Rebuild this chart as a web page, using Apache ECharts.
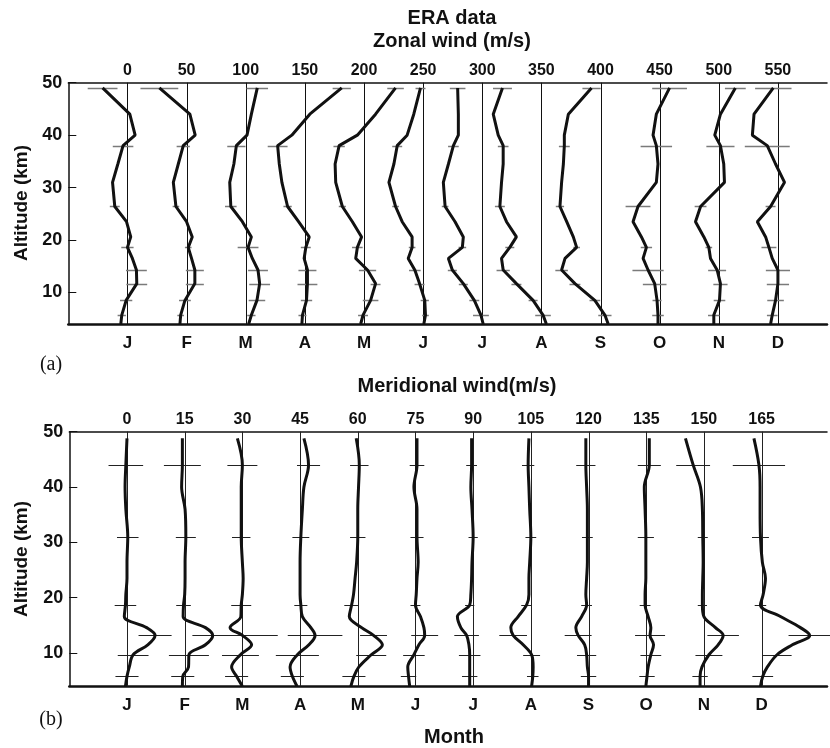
<!DOCTYPE html>
<html><head><meta charset="utf-8">
<script src="https://cdn.jsdelivr.net/npm/echarts@6/dist/echarts.min.js"></script>
<style>html,body{margin:0;padding:0;background:#fff}#c{width:830px;height:748px}</style>
</head><body><div id="c"></div>
<script>
// ---- categories / ticks ----
const months = ['J','F','M','A','M','J','J','A','S','O','N','D'];
const zonalTicks = [0,50,100,150,200,250,300,350,400,450,500,550];
const merTicks = [0,15,30,45,60,75,90,105,120,135,150,165];
const altTicks = [10,20,30,40,50];

// ---- zonal wind (m/s), relative to each month's reference line ----
const zonalAlt = [49, 44, 40, 38, 34.5, 31, 26.4, 23.5, 20.6, 18.6, 16.5, 14.3, 11.7, 8.5, 5.7, 4];
const zJan = [-21, 2, 6.5, -3.7, -8.1, -12.6, -10.7, -0.8, 2.8, 0, 4.2, 7.6, 7.9, -1.1, -4.8, -5.6];
const zFeb = [-23, 2.8, 7.3, -2.8, -7, -11.2, -9, 0, 4.8, 1.4, 4.2, 7, 7, -1.4, -5, -5.6];
const zMar = [9.8, 4.8, 1.1, -7.9, -10, -13.5, -12.6, -2.8, 4.8, 2, 5.6, 10.4, 11.8, 9.5, 4.8, 2.5];
const zApr = [31.2, 4.2, -11, -23, -21.6, -19.4, -14.6, -5.3, 3.7, 0.8, -0.6, 2.2, 2.2, 1.4, -2, -2.5];
const zMay = [26.7, 9.8, -5.6, -21, -24.4, -23.9, -18.3, -9.8, -2, -5.6, -7, 3, 9.8, 5.6, -0.8, -2.8];
const zJun = [-2.2, -7.9, -13.5, -21.9, -24.7, -28.9, -23.3, -17.7, -9.3, -9.3, -12.6, -7, -3, 1.4, 2, 0.6];
const zJul = [-20.8, -20.2, -20.2, -24.4, -28.6, -32.9, -31.4, -23, -16, -16.8, -28.6, -25.3, -16, -6.7, -1.1, 0.8];
const zAug = [-32.9, -40.7, -36.5, -32.3, -32.3, -33.7, -35.1, -29.5, -21.1, -26.7, -33.7, -32.3, -21.1, -7, 1.4, 4.2];
const zSep = [-7.6, -27.2, -30.6, -30.6, -31.4, -32.9, -34.3, -28.6, -23, -20.2, -30, -32.9, -21.6, -4.8, 3.7, 6.5];
const zOct = [8.4, -2.8, -5.6, -2.8, -1.4, -2.8, -18.3, -22.5, -15.4, -11.2, -14, -9.8, -4.2, -2.2, -1.4, -1.4];
const zNov = [14, 1.4, -3.4, 1.4, 4.2, 4.8, -15.4, -19.7, -12.6, -8.4, -7, -1.4, 1.4, 0.6, -4.2, -4.2];
const zDec = [-3.9, -20.2, -21.6, -9, -2, 5.6, -6.2, -17.4, -10.4, -7.6, -4.8, 0, 0, -2, -4.8, -6.2];

// zonal spread (half-width of horizontal bars, m/s)
const zonalBarAlt = [49, 38, 26.4, 18.6, 14.3, 11.7, 8.5, 5.7];
const ezJan = [12.6, 8.7, 4.2, 5.2, 8.8, 8.8, 5.2, 3.5];
const ezFeb = [16, 5.6, 2.8, 2.8, 7.6, 7.6, 5, 2.8];
const ezMar = [9.1, 7.7, 4.9, 8.8, 8.4, 8.8, 7, 3.5];
const ezApr = [7.7, 8.4, 3.5, 4.2, 7.6, 8.4, 4.8, 3.4];
const ezMay = [7, 4.8, 3, 4.5, 7.3, 4.2, 6.6, 4.2];
const ezJun = [4.2, 4.2, 2.8, 2.8, 4.9, 4.2, 3.5, 2.8];
const ezJul = [6.6, 4.5, 2.8, 3.2, 3.8, 3.8, 4.2, 6.7];
const ezAug = [8, 4.5, 4.2, 3.8, 5.6, 4.2, 3.8, 6.6];
const ezSep = [7.7, 4.6, 3.5, 2.8, 5.3, 4.6, 4.5, 5.6];
const ezOct = [14.7, 13.3, 10.5, 4.8, 13.2, 10, 3.8, 4.9];
const ezNov = [8.8, 11.9, 5, 2.8, 7.6, 6, 4.9, 4.9];
const ezDec = [15.4, 19, 4.2, 6.3, 10.2, 9.4, 7, 4.5];

// ---- meridional wind (m/s), relative to each month's reference line ----
const merAlt = [48.8, 44, 40, 36, 31, 26.4, 23.5, 20.6, 18.7, 16.6, 14.6, 13.2, 11.5, 9.7, 7.5, 5.8, 4];
const mJan = [0, -0.3, -0.5, -0.3, 0.2, 0, 0, -0.3, -0.4, -0.7, 5.1, 7.3, 5.4, 1.6, 0.6, 0, -0.4];
const mFeb = [-0.6, -0.6, -0.8, 0.1, 0.3, 0.1, 0.1, 0, -0.3, -0.4, 5.4, 7.3, 5.4, 1.1, 1.0, -0.5, -0.6];
const mMar = [-1.3, 0, -0.3, -0.3, -0.3, 0, 0.2, 0, -0.3, -0.4, -3.2, 0, 2.4, -0.5, -2.8, -1.5, 0];
const mApr = [1, 2.2, 1, 0.6, 0.2, 0, 0, 0, 0.2, 0.6, 2.8, 3.9, 2.3, -0.7, -2.6, -2, -0.8];
const mMay = [-0.4, 0.4, 0.2, 0, 0, -0.3, -0.7, -1.1, -1.6, -2.2, 1, 4.1, 6.4, 3.5, 0.3, -1.0, -1.8];
const mJun = [0.4, 0.4, -0.4, 0.4, 0.4, 0.7, 0.4, 0.2, 0, 1.3, 2.2, 2.4, 0.9, -0.4, -2.0, -1.8, -1.5];
const mJul = [-0.4, -0.4, -0.6, -0.3, 0, -0.3, -0.4, -0.6, -0.9, -4.1, -3.2, -1.7, -1.1, -0.9, -0.9, -0.9, -0.9];
const mAug = [-0.5, -0.7, -0.5, -0.3, 0, -0.3, -0.5, -0.5, -1.1, -3.3, -5.2, -4.6, -2.0, 0.2, 0.6, 0.5, 0.2];
const mSep = [-0.7, -0.7, -0.5, -0.3, -0.3, -0.3, -0.5, -0.7, -0.5, -1.8, -3.3, -2.7, -1.0, -0.5, -0.3, 0, 0];
const mOct = [0.8, 0.8, -0.5, -0.3, -0.1, -0.1, -0.1, -0.3, -0.3, 0.5, 1.2, 1.0, 1.9, 1.2, 0.5, 0.2, -0.1];
const mNov = [-4.8, -2.8, -0.9, -0.4, -0.3, -0.2, -0.3, -0.4, -0.4, 0, 3, 5, 3.7, 1.3, -0.5, -1, -1];
const mDec = [-2, -0.7, -0.4, -0.4, -0.3, 0.2, 1, 0.4, -0.3, 4.9, 10.1, 12.5, 8.0, 4.0, 1.5, 0.3, -0.3];

// meridional spread (half-width of horizontal bars, m/s)
const merBarAlt = [44, 31, 18.7, 13.2, 9.7, 5.8];
const emJan = [4.5, 2.8, 2.8, 4.3, 4, 3];
const emFeb = [4.8, 2.6, 1.9, 5.3, 5.2, 3];
const emMar = [3.9, 2.4, 2.6, 9.2, 4.8, 3];
const emApr = [3, 2.2, 1.7, 7.1, 5.6, 3];
const emMay = [2.4, 2, 1.9, 3.5, 3.9, 3];
const emJun = [1.9, 1.7, 1.3, 3.5, 2.8, 2];
const emJul = [1.4, 1.2, 1.2, 3.2, 2.8, 2];
const emAug = [1.6, 1.4, 1.4, 3.6, 2.2, 1.5];
const emSep = [2.5, 1.4, 1.4, 3.5, 2.5, 2];
const emOct = [3, 2.1, 1.4, 3.9, 2.7, 2];
const emNov = [4.4, 1.3, 1.2, 4.1, 3.5, 2];
const emDec = [6.8, 2.2, 1.5, 5.5, 3.8, 2.7];

// ---- build ----
const zonalProfiles = [zJan,zFeb,zMar,zApr,zMay,zJun,zJul,zAug,zSep,zOct,zNov,zDec];
const zonalErr = [ezJan,ezFeb,ezMar,ezApr,ezMay,ezJun,ezJul,ezAug,ezSep,ezOct,ezNov,ezDec];
const merProfiles = [mJan,mFeb,mMar,mApr,mMay,mJun,mJul,mAug,mSep,mOct,mNov,mDec];
const merErr = [emJan,emFeb,emMar,emApr,emMay,emJun,emJul,emAug,emSep,emOct,emNov,emDec];

const FONT = "'Liberation Sans', Arial, sans-serif";
const series = [];

function errRender(color, width) {
  return function (params, api) {
    const c = api.value(0), a = api.value(1), h = api.value(2);
    const p1 = api.coord([c - h, a]), p2 = api.coord([c + h, a]);
    const y = Math.round(p1[1]) + 0.5;
    return { type: 'line', shape: { x1: p1[0], y1: y, x2: p2[0], y2: y },
      style: { stroke: color, lineWidth: width } };
  };
}
function vRender(color) {
  return function (params, api) {
    const v = api.value(0);
    const p1 = api.coord([v, api.value(1)]), p2 = api.coord([v, api.value(2)]);
    const x = Math.round(p1[0]) + 0.5;
    return { type: 'line', shape: { x1: x, y1: p1[1], x2: x, y2: p2[1] },
      style: { stroke: color, lineWidth: 1 } };
  };
}

function addPanel(profiles, errs, alts, barAlts, ticks, xi, yi, smooth, barColor, barWidth, vColor) {
  series.push({ type: 'custom', xAxisIndex: xi, yAxisIndex: yi, z: 2, silent: true,
    renderItem: vRender(vColor), encode: { x: 0, y: 1 },
    data: ticks.map(t => [t, 4, 50]) });
  const barData = [];
  profiles.forEach((p, m) => {
    const off = ticks[m];
    series.push({
      type: 'line', xAxisIndex: xi, yAxisIndex: yi, showSymbol: false, symbol: 'none',
      smooth: smooth, z: 5, silent: true,
      lineStyle: { color: '#111', width: 3 },
      data: p.map((v, i) => [off + v, alts[i]])
    });
    barAlts.forEach((a, k) => {
      const idx = alts.indexOf(a);
      barData.push([off + p[idx], a, errs[m][k]]);
    });
  });
  series.push({ type: 'custom', xAxisIndex: xi, yAxisIndex: yi, z: 3, silent: true,
    renderItem: errRender(barColor, barWidth), encode: { x: 0, y: 1 }, data: barData });
}

addPanel(zonalProfiles, zonalErr, zonalAlt, zonalBarAlt, zonalTicks, 0, 0, false, '#7a7a7a', 1.5, '#111');
addPanel(merProfiles, merErr, merAlt, merBarAlt, merTicks, 2, 1, 0.35, '#222', 1, '#222');

function topFmt(step, maxT) {
  return v => (v >= 0 && v <= maxT + 1e-6 && Math.abs(v / step - Math.round(v / step)) < 1e-6) ? String(v) : '';
}
function monFmt(step) {
  return v => {
    const i = Math.round(v / step);
    return (v >= 0 && i < 12 && Math.abs(v / step - i) < 1e-6) ? months[i] : '';
  };
}

function topAxis(grid, min, max, step, maxT) {
  return { type: 'value', gridIndex: grid, position: 'top', min, max, interval: step,
    axisLine: { show: true, onZero: false, lineStyle: { color: '#111', width: 1.5 } },
    axisTick: { show: false },
    axisLabel: { formatter: topFmt(step, maxT), color: '#111', fontSize: 16, fontWeight: 'bold', fontFamily: FONT, margin: 4 },
    splitLine: { show: false } };
}
function monAxis(grid, min, max, step) {
  return { type: 'value', gridIndex: grid, position: 'bottom', min, max, interval: step,
    axisLine: { show: true, onZero: false, lineStyle: { color: '#111', width: 2.5 } },
    axisTick: { show: false },
    axisLabel: { formatter: monFmt(step), color: '#111', fontSize: 17, fontWeight: 'bold', fontFamily: FONT, margin: 11 },
    splitLine: { show: false } };
}
function altAxis(grid) {
  return { type: 'value', gridIndex: grid, min: 4, max: 50,
    axisLine: { show: true, onZero: false, lineStyle: { color: '#111', width: 1.5 } },
    axisTick: { show: true, inside: true, length: 8, customValues: altTicks, lineStyle: { color: '#111', width: 1 } },
    axisLabel: { customValues: altTicks, color: '#111', fontSize: 18, fontWeight: 'bold', fontFamily: FONT, margin: 6 },
    splitLine: { show: false } };
}

const TFONT = "bold 20px 'Liberation Sans', Arial";
const option = {
  animation: false,
  backgroundColor: '#fff',
  grid: [
    { left: 68.3, top: 82.7, right: 0, height: 241.3 },
    { left: 69.3, top: 431.7, right: 0, height: 254.6 }
  ],
  xAxis: [
    topAxis(0, -50, 591.5, 50, 550),
    monAxis(0, -50, 591.5, 50),
    topAxis(1, -15, 182, 15, 165),
    monAxis(1, -15, 182, 15)
  ],
  yAxis: [altAxis(0), altAxis(1)],
  series: series,
  graphic: [
    { type: 'text', x: 452, y: 18, style: { text: 'ERA data', font: TFONT, fill: '#111', align: 'center', verticalAlign: 'middle' } },
    { type: 'text', x: 452, y: 41, style: { text: 'Zonal wind (m/s)', font: TFONT, fill: '#111', align: 'center', verticalAlign: 'middle' } },
    { type: 'text', x: 457, y: 386, style: { text: 'Meridional wind(m/s)', font: TFONT, fill: '#111', align: 'center', verticalAlign: 'middle' } },
    { type: 'text', x: 454, y: 737, style: { text: 'Month', font: TFONT, fill: '#111', align: 'center', verticalAlign: 'middle' } },
    { type: 'text', x: 51, y: 365, style: { text: '(a)', font: "20px 'Liberation Serif', 'Times New Roman', serif", fill: '#111', align: 'center', verticalAlign: 'middle' } },
    { type: 'text', x: 51, y: 720, style: { text: '(b)', font: "20px 'Liberation Serif', 'Times New Roman', serif", fill: '#111', align: 'center', verticalAlign: 'middle' } },
    { type: 'text', x: 22, y: 203, rotation: Math.PI / 2, style: { text: 'Altitude (km)', font: "bold 19px 'Liberation Sans', Arial", fill: '#111', align: 'center', verticalAlign: 'middle' } },
    { type: 'text', x: 22, y: 559, rotation: Math.PI / 2, style: { text: 'Altitude (km)', font: "bold 19px 'Liberation Sans', Arial", fill: '#111', align: 'center', verticalAlign: 'middle' } }
  ]
};

const chart = echarts.init(document.getElementById('c'), null, { renderer: 'canvas' });
chart.setOption(option);
</script>
</body></html>
